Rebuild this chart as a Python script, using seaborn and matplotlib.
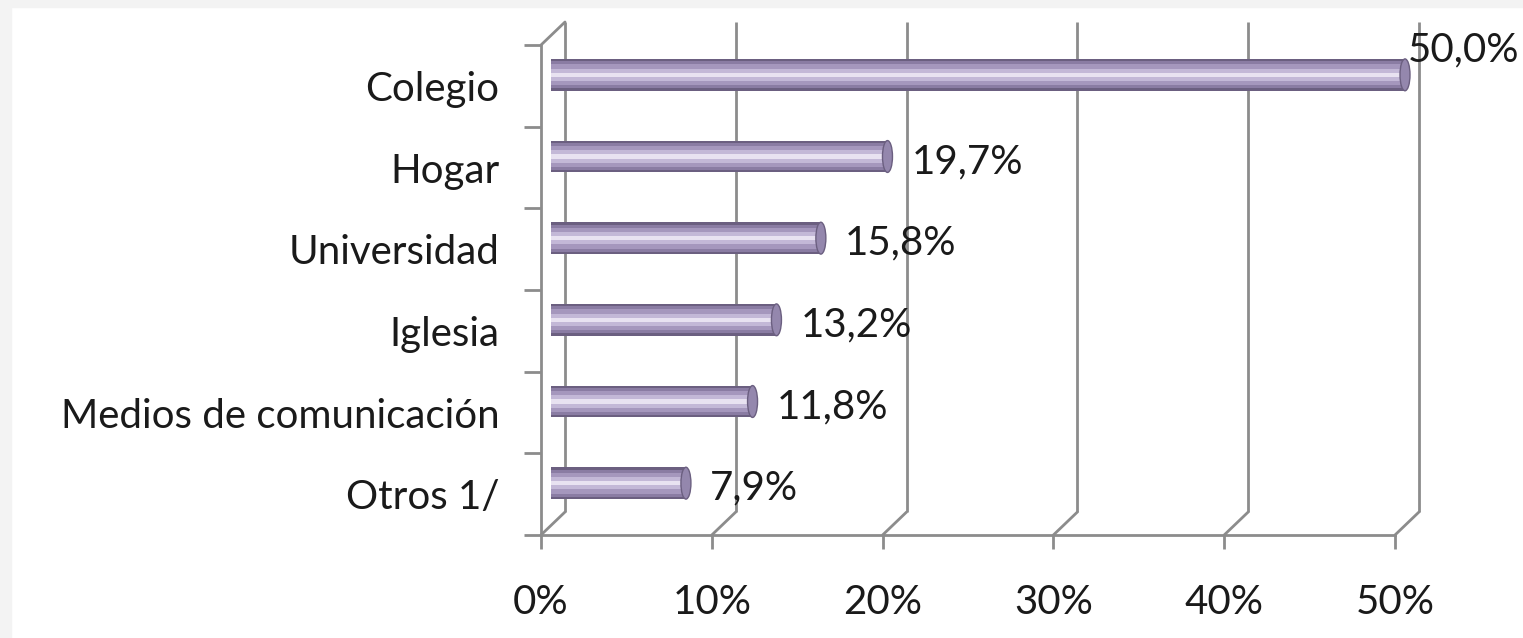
import matplotlib
matplotlib.use('Agg')
import pandas as pd
import seaborn as sns
import matplotlib.pyplot as plt
import matplotlib.transforms as mtransforms
from matplotlib.patches import Rectangle, Ellipse

# datos
categorias = ['Colegio', 'Hogar', 'Universidad', 'Iglesia', 'Medios de comunicación', 'Otros 1/']
valores = [50.0, 19.7, 15.8, 13.2, 11.8, 7.9]
etiquetas = ['50,0%', '19,7%', '15,8%', '13,2%', '11,8%', '7,9%']
x_ticks = [0, 10, 20, 30, 40, 50]
x_tick_labels = ['0%', '10%', '20%', '30%', '40%', '50%']

df = pd.DataFrame({'categoria': categorias, 'valor': valores})

sns.set_style('white')
plt.rcParams['font.family'] = ['Lato', 'DejaVu Sans']

W, H = 1523, 638
fig = plt.figure(figsize=(W / 100, H / 100), dpi=100)
fig.patch.set_facecolor('white')
fig.add_artist(Rectangle((0, 0), 11 / W, 1, transform=fig.transFigure, color='#f3f3f3', zorder=-5))
fig.add_artist(Rectangle((0, 1 - 7 / H), 1, 7 / H, transform=fig.transFigure, color='#f3f3f3', zorder=-5))

ax = fig.add_axes([541 / W, 1 - 535 / H, 854 / W, 490 / H])
gris = '#8c8c8c'
texto = '#1a1a1a'
fs = 29

# barras tipo cilindro: capas de oscuro a claro
capas = [(0.39, '#6b5f80'), (0.33, '#8a7ca3'), (0.26, '#a597bd'), (0.15, '#c3b8d7'), (0.05, '#e8e2f1')]
for w, c in capas:
    sns.barplot(data=df, x='valor', y='categoria', orient='h', width=w, color=c,
                saturation=1, edgecolor='none', ax=ax)

ax.set_xlim(0, 50)
ax.set_ylim(5.5, -0.5)

# desplazamiento en profundidad
desp_barra = mtransforms.ScaledTranslation(0.10, 0.11, fig.dpi_scale_trans)
for p in ax.patches:
    p.set_transform(ax.transData + desp_barra)
    p.set_clip_on(False)

px_x = ax.bbox.width / 50
px_y = ax.bbox.height / 6

# tapas de los cilindros
for i, v in enumerate(valores):
    tapa = Ellipse((v, i), 10 / px_x, capas[0][0], facecolor='#9487ad', edgecolor='#6b5f80',
                   lw=1, transform=ax.transData + desp_barra, clip_on=False, zorder=3)
    ax.add_patch(tapa)

# pared del fondo
fondo = ax.transData + mtransforms.ScaledTranslation(0.24, 0.23, fig.dpi_scale_trans)
ax.vlines(x_ticks, 5.5, -0.5, transform=fondo, color=gris, lw=2, clip_on=False, zorder=0)

# diagonales de profundidad
dx = 24 / px_x
dy = 23 / px_y
for x in x_ticks:
    ax.plot([x, x + dx], [5.5, 5.5 - dy], color=gris, lw=2, clip_on=False, zorder=0)
ax.plot([0, dx], [-0.5, -0.5 - dy], color=gris, lw=2, clip_on=False, zorder=0)

# ejes frontales
sns.despine(ax=ax, top=True, right=True)
for s in ['left', 'bottom']:
    ax.spines[s].set_visible(True)
    ax.spines[s].set_color(gris)
    ax.spines[s].set_linewidth(2)
    ax.spines[s].set_zorder(4)

ax.set_xticks(x_ticks)
ax.set_xticklabels(x_tick_labels, fontsize=fs, color=texto)
ax.tick_params(axis='x', bottom=True, length=10, width=2, color=gris, pad=25)
ax.set_yticks(range(len(categorias)))
ax.set_yticklabels(categorias, fontsize=fs, color=texto)
ax.tick_params(axis='y', left=True, length=0, pad=30)
ax.set_yticks([i - 0.5 for i in range(len(categorias) + 1)], minor=True)
ax.tick_params(axis='y', which='minor', left=True, length=12, width=2, color=gris)
ax.set_xlabel('')
ax.set_ylabel('')

# etiquetas de valor
anotaciones = []
for i, (v, t) in enumerate(zip(valores, etiquetas)):
    a = ax.annotate(t, xy=(v, i), xytext=(34, 6), textcoords='offset pixels',
                    ha='left', va='center', fontsize=fs, color=texto, annotation_clip=False)
    anotaciones.append(a)

fig.canvas.draw()
for a in anotaciones:
    bb = a.get_window_extent()
    if bb.x1 > W - 4:
        x, y = a.xyann
        a.xyann = (x - (bb.x1 - (W - 4)), y + 30)

fig.savefig('out.png', dpi=100)
